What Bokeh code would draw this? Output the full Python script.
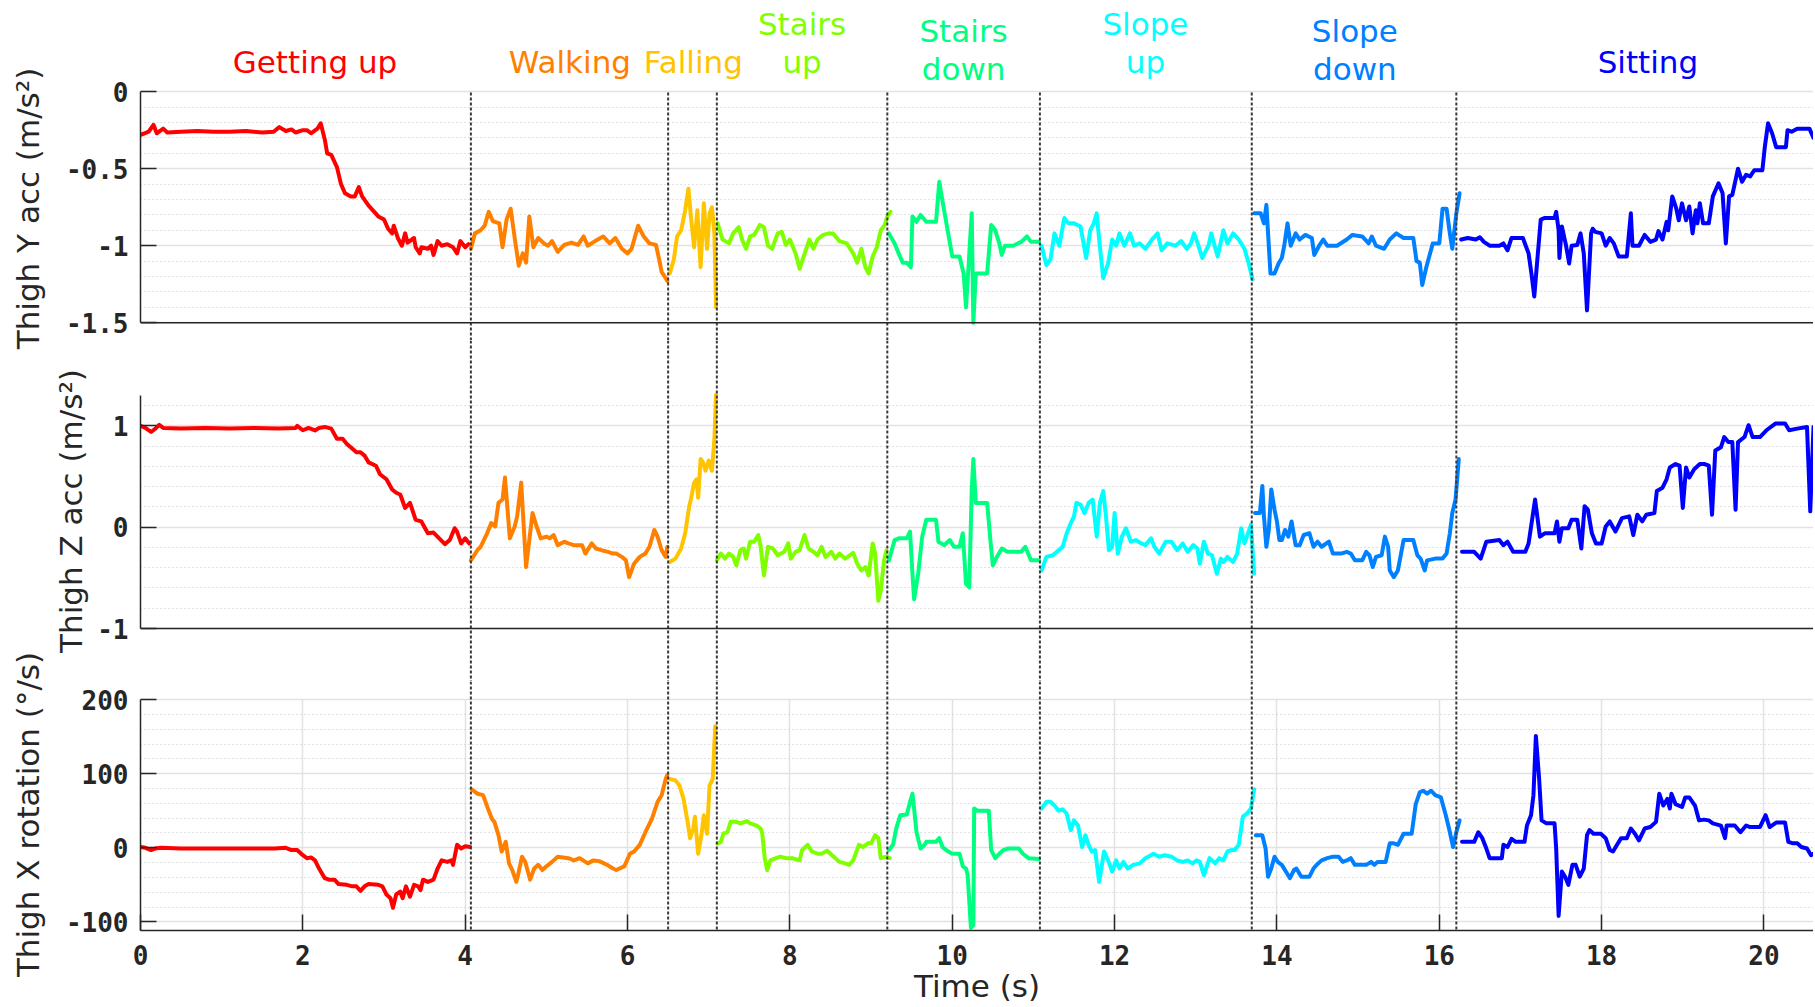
import numpy as np
from bokeh.plotting import figure
from bokeh.layouts import column, row
from bokeh.models import Range1d, Span, FixedTicker, Grid
from bokeh.embed import file_html
from bokeh.resources import INLINE
from bokeh.core.properties import value

# ---------------- data ----------------
ACTIVITIES = ["Getting up", "Walking", "Falling", "Stairs up", "Stairs down",
              "Slope up", "Slope down", "Sitting"]
COLORS = ["#FF0000", "#FF8000", "#FFC400", "#80FF00", "#00FF80",
          "#00FFFF", "#0080FF", "#0000FF"]
BOUNDARIES = [4.07, 6.50, 7.10, 9.20, 11.08, 13.69, 16.21]
LABEL_T = [2.15, 5.29, 6.81, 8.15, 10.14, 12.38, 14.96, 18.57]

# Thigh Y acceleration (m/s^2): one list of (time, value) per activity
YACC = [
    [(0, -0.28), (0.05, -0.27), (0.1, -0.26), (0.16, -0.215), (0.2, -0.27), (0.28, -0.24), (0.33, -0.265),
     (0.5, -0.26), (0.7, -0.255), (0.9, -0.26), (1.1, -0.26), (1.3, -0.255), (1.5, -0.265), (1.64, -0.26),
     (1.71, -0.23), (1.79, -0.255), (1.86, -0.245), (1.91, -0.265), (2.0, -0.25), (2.05, -0.25), (2.1, -0.27),
     (2.18, -0.24), (2.22, -0.205), (2.27, -0.31), (2.3, -0.40), (2.35, -0.41), (2.42, -0.49), (2.47, -0.60),
     (2.52, -0.66), (2.59, -0.68), (2.64, -0.68), (2.69, -0.62), (2.73, -0.68), (2.81, -0.74), (2.88, -0.78),
     (2.93, -0.81), (3.0, -0.83), (3.05, -0.89), (3.1, -0.92), (3.12, -0.87), (3.17, -0.95), (3.22, -1.0),
     (3.26, -0.92), (3.29, -0.98), (3.37, -0.95), (3.39, -1.01), (3.44, -1.05), (3.46, -1.01), (3.54, -1.02),
     (3.58, -1.0), (3.61, -1.06), (3.66, -0.97), (3.71, -1.0), (3.78, -0.99), (3.85, -1.01), (3.9, -1.05),
     (3.94, -0.97), (4.0, -1.01), (4.04, -0.99)],
    [(4.07, -1.02), (4.12, -0.92), (4.19, -0.90), (4.24, -0.87), (4.29, -0.78), (4.34, -0.84), (4.42, -0.855),
     (4.46, -1.01), (4.51, -0.83), (4.56, -0.76), (4.61, -0.95), (4.66, -1.13), (4.71, -1.05), (4.75, -1.11),
     (4.79, -0.81), (4.84, -1.01), (4.9, -0.95), (4.97, -0.985), (5.02, -1.0), (5.07, -0.97), (5.14, -1.04),
     (5.22, -0.995), (5.31, -0.98), (5.39, -0.995), (5.46, -0.94), (5.51, -1.0), (5.6, -0.97), (5.7, -0.94),
     (5.78, -0.985), (5.85, -0.95), (5.93, -1.02), (6.0, -1.05), (6.05, -1.02), (6.13, -0.87), (6.2, -0.94),
     (6.27, -0.985), (6.35, -0.995), (6.39, -1.09), (6.42, -1.17), (6.47, -1.21), (6.49, -1.23)],
    [(6.52, -1.18), (6.57, -1.09), (6.61, -0.94), (6.66, -0.90), (6.71, -0.77), (6.75, -0.63), (6.78, -0.81),
     (6.82, -1.01), (6.86, -0.77), (6.9, -1.14), (6.94, -0.725), (6.98, -1.02), (7.01, -0.79), (7.04, -0.75),
     (7.07, -0.92), (7.09, -1.40)],
    [(7.11, -0.855), (7.17, -0.96), (7.25, -0.985), (7.3, -0.92), (7.37, -0.88), (7.41, -0.96), (7.46, -1.02),
     (7.51, -0.94), (7.56, -0.93), (7.63, -0.865), (7.68, -0.88), (7.73, -1.0), (7.78, -1.02), (7.85, -0.92),
     (7.9, -0.91), (7.95, -0.995), (8.0, -0.96), (8.07, -1.05), (8.12, -1.15), (8.17, -1.07), (8.24, -0.96),
     (8.29, -1.02), (8.34, -0.96), (8.41, -0.93), (8.48, -0.92), (8.53, -0.92), (8.61, -0.97), (8.7, -0.985),
     (8.78, -1.05), (8.83, -1.11), (8.88, -1.02), (8.93, -1.14), (8.97, -1.18), (9.02, -1.07), (9.07, -1.01),
     (9.12, -0.90), (9.17, -0.865), (9.2, -0.81), (9.24, -0.78)],
    [(9.22, -0.92), (9.29, -0.985), (9.34, -1.05), (9.39, -1.11), (9.44, -1.11), (9.49, -1.14), (9.51, -0.81),
     (9.56, -0.845), (9.61, -0.80), (9.68, -0.845), (9.8, -0.845), (9.84, -0.585), (9.87, -0.68), (9.95, -0.92),
     (10.0, -1.07), (10.09, -1.07), (10.14, -1.18), (10.17, -1.40), (10.21, -1.05), (10.24, -0.79), (10.26, -1.5),
     (10.29, -1.18), (10.43, -1.18), (10.48, -0.865), (10.53, -0.90), (10.58, -0.985), (10.61, -1.06),
     (10.65, -1.0), (10.75, -1.0), (10.85, -0.975), (10.92, -0.94), (10.97, -0.975), (11.07, -0.975)],
    [(11.1, -1.0), (11.16, -1.125), (11.21, -1.09), (11.26, -0.92), (11.32, -1.0), (11.38, -0.82), (11.43, -0.855),
     (11.5, -0.855), (11.58, -0.875), (11.65, -1.08), (11.7, -0.90), (11.74, -0.86), (11.78, -0.79), (11.81, -0.96),
     (11.86, -1.21), (11.92, -1.115), (11.97, -0.96), (12.02, -1.0), (12.06, -0.92), (12.12, -1.0), (12.19, -0.92),
     (12.24, -1.0), (12.31, -0.985), (12.38, -1.02), (12.46, -0.96), (12.53, -0.92), (12.58, -1.03), (12.65, -0.985),
     (12.75, -1.0), (12.82, -0.97), (12.89, -1.02), (12.94, -0.985), (12.98, -0.92), (13.03, -0.995), (13.08, -1.08),
     (13.16, -0.995), (13.19, -0.92), (13.27, -1.07), (13.34, -0.90), (13.39, -0.985), (13.46, -0.92),
     (13.53, -0.96), (13.6, -1.02), (13.65, -1.11), (13.7, -1.22)],
    [(13.72, -0.79), (13.8, -0.79), (13.84, -0.855), (13.87, -0.735), (13.92, -1.18), (13.97, -1.18), (14.02, -1.115),
     (14.06, -1.08), (14.09, -1.0), (14.13, -0.855), (14.17, -1.0), (14.23, -0.92), (14.28, -0.96), (14.35, -0.93),
     (14.43, -0.95), (14.46, -1.06), (14.52, -1.0), (14.57, -0.96), (14.62, -1.0), (14.74, -1.0), (14.86, -0.96),
     (14.93, -0.93), (15.05, -0.94), (15.13, -0.985), (15.17, -0.94), (15.22, -1.0), (15.32, -1.02), (15.39, -0.96),
     (15.47, -0.92), (15.56, -0.95), (15.68, -0.95), (15.72, -1.10), (15.76, -1.11), (15.79, -1.255), (15.84, -1.14),
     (15.92, -0.985), (16.0, -0.985), (16.04, -0.76), (16.09, -0.76), (16.13, -0.92), (16.16, -1.02),
     (16.21, -0.79), (16.25, -0.66)],
    [(16.27, -0.96), (16.35, -0.95), (16.45, -0.96), (16.5, -0.945), (16.55, -0.975), (16.62, -1.0), (16.74, -1.0),
     (16.79, -0.985), (16.84, -1.03), (16.89, -0.95), (17.03, -0.95), (17.1, -1.05), (17.14, -1.2), (17.17, -1.33),
     (17.2, -1.14), (17.25, -0.83), (17.3, -0.82), (17.42, -0.82), (17.44, -0.78), (17.47, -0.90), (17.48, -1.08),
     (17.51, -0.875), (17.56, -0.995), (17.6, -1.115), (17.63, -1.0), (17.7, -0.995), (17.74, -0.92), (17.78, -1.05),
     (17.82, -1.42), (17.87, -0.92), (17.89, -0.89), (17.92, -0.91), (18.0, -0.92), (18.05, -1.0), (18.1, -0.95),
     (18.15, -0.985), (18.21, -1.07), (18.31, -1.07), (18.36, -0.79), (18.38, -1.0), (18.46, -1.0), (18.53, -0.93),
     (18.6, -0.975), (18.67, -0.96), (18.7, -0.905), (18.75, -0.96), (18.8, -0.845), (18.82, -0.90), (18.87, -0.68),
     (18.92, -0.76), (18.95, -0.835), (18.99, -0.725), (19.04, -0.835), (19.08, -0.745), (19.12, -0.92),
     (19.16, -0.77), (19.18, -0.855), (19.21, -0.725), (19.25, -0.855), (19.32, -0.855), (19.37, -0.68),
     (19.44, -0.595), (19.49, -0.66), (19.53, -0.985), (19.57, -0.68), (19.61, -0.67), (19.68, -0.50),
     (19.73, -0.585), (19.78, -0.54), (19.83, -0.55), (19.88, -0.51), (19.98, -0.51), (20.01, -0.36),
     (20.05, -0.205), (20.1, -0.27), (20.15, -0.36), (20.27, -0.36), (20.29, -0.25), (20.34, -0.26),
     (20.41, -0.24), (20.56, -0.24), (20.61, -0.30)],
]

# Thigh Z acceleration (m/s^2)
ZACC = [
    [(0, 1.0), (0.06, 0.98), (0.13, 0.94), (0.18, 0.97), (0.23, 1.01), (0.28, 0.98), (0.5, 0.975), (0.8, 0.98),
     (1.1, 0.975), (1.4, 0.98), (1.7, 0.975), (1.91, 0.98), (1.93, 1.0), (2.0, 0.957), (2.07, 0.98), (2.15, 0.955),
     (2.2, 0.98), (2.27, 0.99), (2.35, 0.973), (2.42, 0.873), (2.49, 0.873), (2.54, 0.823), (2.59, 0.79),
     (2.66, 0.74), (2.71, 0.74), (2.76, 0.707), (2.81, 0.64), (2.9, 0.607), (2.95, 0.523), (3.03, 0.473),
     (3.1, 0.373), (3.15, 0.34), (3.2, 0.323), (3.26, 0.19), (3.32, 0.24), (3.39, 0.073), (3.46, 0.057),
     (3.54, -0.06), (3.61, -0.053), (3.68, -0.11), (3.75, -0.167), (3.81, -0.127), (3.87, -0.01), (3.9, -0.043),
     (3.95, -0.16), (4.0, -0.11), (4.05, -0.16)],
    [(4.07, -0.327), (4.15, -0.227), (4.19, -0.193), (4.27, -0.06), (4.32, 0.04), (4.37, 0.007), (4.41, 0.24),
     (4.46, 0.273), (4.49, 0.49), (4.55, -0.11), (4.61, 0.007), (4.64, 0.107), (4.69, 0.44), (4.75, -0.393),
     (4.83, 0.14), (4.88, 0.007), (4.93, -0.11), (5.0, -0.093), (5.04, -0.11), (5.09, -0.077), (5.14, -0.177),
     (5.22, -0.143), (5.27, -0.16), (5.34, -0.177), (5.44, -0.177), (5.48, -0.26), (5.56, -0.16), (5.61, -0.21),
     (5.68, -0.227), (5.76, -0.243), (5.82, -0.26), (5.86, -0.26), (5.93, -0.293), (5.98, -0.327), (6.02, -0.493),
     (6.08, -0.36), (6.15, -0.293), (6.22, -0.26), (6.27, -0.193), (6.33, -0.027), (6.37, -0.093), (6.42, -0.227),
     (6.47, -0.293), (6.49, -0.193)],
    [(6.52, -0.343), (6.59, -0.31), (6.66, -0.21), (6.71, -0.06), (6.76, 0.207), (6.78, 0.273), (6.82, 0.44),
     (6.85, 0.473), (6.87, 0.29), (6.9, 0.673), (6.93, 0.64), (6.96, 0.557), (7.0, 0.657), (7.04, 0.557),
     (7.07, 0.873), (7.09, 1.307)],
    [(7.1, -0.327), (7.15, -0.26), (7.2, -0.31), (7.25, -0.26), (7.3, -0.29), (7.34, -0.377), (7.39, -0.227),
     (7.43, -0.21), (7.46, -0.31), (7.51, -0.143), (7.56, -0.143), (7.61, -0.077), (7.64, -0.193), (7.68, -0.477),
     (7.73, -0.193), (7.79, -0.21), (7.85, -0.277), (7.93, -0.243), (7.98, -0.16), (8.01, -0.31), (8.07, -0.243),
     (8.12, -0.227), (8.18, -0.077), (8.23, -0.21), (8.29, -0.243), (8.34, -0.277), (8.39, -0.193), (8.44, -0.293),
     (8.51, -0.243), (8.56, -0.31), (8.61, -0.26), (8.68, -0.31), (8.78, -0.253), (8.83, -0.36), (8.88, -0.427),
     (8.93, -0.393), (8.97, -0.477), (9.02, -0.16), (9.05, -0.26), (9.09, -0.727), (9.12, -0.627), (9.16, -0.327),
     (9.19, -0.227)],
    [(9.22, -0.327), (9.29, -0.127), (9.34, -0.11), (9.44, -0.11), (9.48, -0.043), (9.51, -0.46), (9.53, -0.71),
     (9.58, -0.46), (9.63, -0.093), (9.68, 0.073), (9.8, 0.073), (9.83, -0.143), (9.9, -0.177), (9.97, -0.127),
     (10.02, -0.193), (10.09, -0.193), (10.13, -0.06), (10.17, -0.56), (10.21, -0.593), (10.24, 0.373),
     (10.26, 0.673), (10.29, 0.24), (10.43, 0.24), (10.47, -0.127), (10.5, -0.377), (10.55, -0.293), (10.61, -0.21),
     (10.68, -0.243), (10.85, -0.243), (10.9, -0.193), (10.97, -0.327), (11.07, -0.327)],
    [(11.1, -0.427), (11.16, -0.293), (11.24, -0.277), (11.31, -0.227), (11.36, -0.193), (11.41, -0.06),
     (11.46, 0.04), (11.5, 0.107), (11.53, 0.24), (11.58, 0.223), (11.63, 0.14), (11.68, 0.24), (11.73, 0.273),
     (11.78, -0.093), (11.82, 0.24), (11.86, 0.357), (11.89, 0.14), (11.93, -0.227), (11.97, -0.193), (12.0, 0.14),
     (12.04, -0.26), (12.09, -0.093), (12.14, -0.01), (12.2, -0.143), (12.26, -0.127), (12.33, -0.16),
     (12.38, -0.177), (12.45, -0.11), (12.49, -0.193), (12.55, -0.26), (12.63, -0.143), (12.7, -0.143),
     (12.77, -0.227), (12.84, -0.16), (12.9, -0.243), (12.97, -0.177), (13.02, -0.21), (13.05, -0.36),
     (13.1, -0.143), (13.15, -0.26), (13.2, -0.277), (13.26, -0.46), (13.31, -0.31), (13.34, -0.343),
     (13.39, -0.293), (13.46, -0.343), (13.51, -0.26), (13.56, -0.01), (13.6, -0.16), (13.68, 0.023),
     (13.72, -0.46)],
    [(13.73, 0.14), (13.79, 0.14), (13.82, 0.407), (13.84, 0.107), (13.87, -0.193), (13.9, -0.027), (13.93, 0.373),
     (13.97, 0.173), (14.0, 0.057), (14.03, -0.127), (14.06, -0.127), (14.1, -0.027), (14.14, -0.093),
     (14.18, 0.057), (14.23, -0.177), (14.28, -0.177), (14.33, -0.077), (14.4, -0.06), (14.45, -0.193),
     (14.5, -0.143), (14.55, -0.193), (14.64, -0.143), (14.69, -0.26), (14.79, -0.26), (14.86, -0.243),
     (14.91, -0.26), (14.96, -0.327), (15.05, -0.327), (15.1, -0.243), (15.14, -0.277), (15.18, -0.393),
     (15.22, -0.293), (15.29, -0.277), (15.33, -0.093), (15.37, -0.193), (15.39, -0.427), (15.44, -0.493),
     (15.49, -0.427), (15.56, -0.127), (15.68, -0.127), (15.73, -0.277), (15.77, -0.31), (15.82, -0.427),
     (15.85, -0.327), (15.95, -0.31), (16.04, -0.31), (16.09, -0.26), (16.13, -0.06), (16.16, 0.14),
     (16.2, 0.273), (16.24, 0.673)],
    [(16.28, -0.243), (16.43, -0.243), (16.51, -0.31), (16.58, -0.143), (16.74, -0.127), (16.79, -0.177),
     (16.84, -0.143), (16.91, -0.243), (17.06, -0.243), (17.1, -0.16), (17.18, 0.273), (17.24, -0.093),
     (17.3, -0.06), (17.42, -0.06), (17.45, 0.057), (17.48, -0.143), (17.51, -0.01), (17.59, -0.01),
     (17.63, 0.073), (17.7, 0.073), (17.75, -0.21), (17.79, 0.207), (17.83, 0.173), (17.88, -0.06),
     (17.93, -0.16), (18.0, -0.16), (18.05, 0.007), (18.1, 0.057), (18.17, -0.043), (18.25, 0.09),
     (18.34, 0.107), (18.39, -0.077), (18.44, 0.123), (18.5, 0.057), (18.55, 0.123), (18.65, 0.14),
     (18.68, 0.357), (18.75, 0.39), (18.8, 0.473), (18.84, 0.59), (18.91, 0.623), (18.96, 0.607), (19.0, 0.19),
     (19.04, 0.59), (19.08, 0.49), (19.14, 0.573), (19.21, 0.623), (19.27, 0.623), (19.32, 0.607), (19.36, 0.123),
     (19.4, 0.757), (19.47, 0.79), (19.51, 0.89), (19.56, 0.84), (19.61, 0.84), (19.65, 0.173), (19.68, 0.84),
     (19.76, 0.89), (19.81, 1.007), (19.86, 0.89), (19.95, 0.89), (20.03, 0.957), (20.14, 1.023), (20.26, 1.023),
     (20.31, 0.957), (20.41, 0.973), (20.53, 0.99), (20.57, 0.157), (20.61, 0.99)],
]

# Thigh X rotation (deg/s)
XROT = [
    [(0, 1), (0.06, 0), (0.13, -3), (0.18, -1), (0.25, 0), (0.5, -1), (0.8, -1), (1.1, -1), (1.4, -1), (1.65, -1),
     (1.79, 0), (1.86, -3), (1.93, -3), (2.0, -10), (2.05, -14), (2.1, -13), (2.15, -17), (2.2, -28), (2.27, -41),
     (2.32, -43), (2.39, -43), (2.44, -49), (2.54, -50), (2.61, -52), (2.66, -52), (2.71, -58), (2.76, -52),
     (2.81, -49), (2.93, -50), (2.98, -52), (3.03, -63), (3.08, -68), (3.11, -81), (3.15, -63), (3.2, -59),
     (3.23, -68), (3.27, -52), (3.32, -66), (3.37, -50), (3.42, -52), (3.45, -57), (3.48, -43), (3.54, -46),
     (3.61, -43), (3.66, -28), (3.71, -17), (3.78, -19), (3.83, -17), (3.85, -23), (3.9, 4), (3.95, -1),
     (4.0, 2), (4.06, 1)],
    [(4.08, 79), (4.15, 73), (4.22, 71), (4.28, 53), (4.33, 39), (4.36, 35), (4.41, 17), (4.45, -5), (4.5, 8),
     (4.54, -21), (4.58, -30), (4.63, -46), (4.65, -37), (4.7, -12), (4.74, -19), (4.8, -43), (4.85, -28),
     (4.9, -23), (4.95, -30), (5.0, -25), (5.07, -19), (5.14, -12), (5.27, -14), (5.34, -17), (5.41, -14),
     (5.51, -21), (5.58, -17), (5.65, -18), (5.75, -23), (5.82, -28), (5.86, -30), (5.96, -25), (6.03, -8),
     (6.08, -5), (6.15, 4), (6.22, 21), (6.3, 39), (6.37, 62), (6.42, 71), (6.47, 93), (6.49, 98)],
    [(6.52, 93), (6.59, 91), (6.64, 84), (6.69, 66), (6.74, 35), (6.77, 13), (6.81, 26), (6.83, 42), (6.87, -8),
     (6.91, 17), (6.94, 44), (6.98, 19), (7.01, 84), (7.05, 93), (7.08, 164)],
    [(7.11, 6), (7.15, 8), (7.18, 19), (7.23, 21), (7.27, 35), (7.34, 35), (7.39, 33), (7.47, 36), (7.51, 33),
     (7.59, 30), (7.64, 26), (7.66, 19), (7.69, -14), (7.72, -30), (7.76, -17), (7.83, -14), (7.88, -12),
     (7.95, -14), (8.03, -14), (8.12, -17), (8.15, -3), (8.22, 4), (8.27, -5), (8.34, -8), (8.39, -8), (8.46, -4),
     (8.54, -12), (8.61, -19), (8.68, -21), (8.73, -23), (8.78, -17), (8.85, 4), (8.9, 1), (8.96, 6), (9.0, 6),
     (9.05, 17), (9.09, 13), (9.12, -14), (9.19, -12), (9.23, -14)],
    [(9.22, -3), (9.27, 4), (9.31, 26), (9.36, 44), (9.44, 45), (9.48, 62), (9.51, 73), (9.53, 53), (9.56, 21),
     (9.61, -1), (9.66, 4), (9.68, 8), (9.8, 8), (9.84, 13), (9.88, 1), (9.95, -5), (10.0, -8), (10.09, -8),
     (10.13, -25), (10.17, -28), (10.19, -37), (10.23, -108), (10.26, -104), (10.27, 53), (10.31, 50),
     (10.45, 50), (10.48, -3), (10.53, -14), (10.58, -8), (10.63, -3), (10.68, -1), (10.82, -1), (10.87, -8),
     (10.94, -14), (11.07, -15)],
    [(11.1, 53), (11.16, 62), (11.21, 62), (11.26, 57), (11.31, 50), (11.36, 52), (11.41, 46), (11.46, 24),
     (11.5, 37), (11.55, 30), (11.6, 1), (11.64, 17), (11.68, 4), (11.72, -5), (11.76, -3), (11.81, -46),
     (11.87, -5), (11.92, -17), (11.97, -32), (12.02, -17), (12.06, -28), (12.11, -19), (12.16, -28),
     (12.23, -23), (12.31, -21), (12.38, -14), (12.48, -8), (12.55, -12), (12.62, -10), (12.7, -12),
     (12.77, -17), (12.84, -19), (12.9, -17), (12.96, -21), (13.01, -17), (13.05, -19), (13.1, -37),
     (13.17, -14), (13.24, -21), (13.29, -14), (13.34, -17), (13.39, -5), (13.44, -3), (13.48, -3), (13.53, 4),
     (13.58, 42), (13.63, 46), (13.68, 53), (13.72, 79)],
    [(13.74, 17), (13.82, 17), (13.86, -1), (13.89, -39), (13.93, -28), (13.97, -12), (14.01, -19), (14.06, -23),
     (14.11, -32), (14.16, -41), (14.21, -30), (14.24, -28), (14.3, -39), (14.4, -39), (14.45, -28), (14.49, -23),
     (14.55, -17), (14.62, -14), (14.69, -12), (14.76, -12), (14.81, -19), (14.86, -17), (14.91, -14),
     (14.96, -23), (15.1, -23), (15.16, -19), (15.2, -23), (15.24, -19), (15.34, -19), (15.39, 6), (15.44, 6),
     (15.49, 4), (15.56, 19), (15.66, 19), (15.71, 59), (15.76, 75), (15.8, 77), (15.85, 73), (15.9, 77),
     (15.95, 71), (16.02, 68), (16.08, 44), (16.12, 26), (16.17, 1), (16.21, 21), (16.25, 37)],
    [(16.28, 8), (16.43, 8), (16.48, 21), (16.53, 13), (16.58, -1), (16.62, -14), (16.77, -14), (16.79, 4),
     (16.84, 1), (16.89, 12), (16.94, 8), (17.05, 8), (17.08, 30), (17.13, 44), (17.16, 71), (17.19, 151),
     (17.23, 93), (17.26, 37), (17.32, 33), (17.42, 33), (17.44, -1), (17.47, -92), (17.51, -32), (17.55, -39),
     (17.59, -50), (17.64, -23), (17.68, -23), (17.73, -39), (17.78, -28), (17.82, 17), (17.85, 24), (17.9, 19),
     (17.99, 19), (18.05, 13), (18.1, -3), (18.14, -5), (18.19, 4), (18.24, 13), (18.31, 13), (18.36, 26),
     (18.41, 19), (18.46, 10), (18.53, 26), (18.6, 28), (18.67, 35), (18.71, 73), (18.76, 57), (18.81, 66),
     (18.84, 53), (18.86, 73), (18.91, 59), (18.99, 55), (19.03, 68), (19.08, 68), (19.15, 57), (19.2, 37),
     (19.26, 38), (19.32, 37), (19.37, 33), (19.47, 30), (19.52, 13), (19.54, 30), (19.64, 30), (19.71, 21),
     (19.78, 30), (19.83, 28), (19.95, 28), (20.02, 44), (20.07, 28), (20.15, 34), (20.26, 34), (20.3, 8),
     (20.36, 6), (20.41, 6), (20.46, 1), (20.53, -1), (20.58, -10), (20.61, -8)],
]

YACC_TICKS = [-1.5, -1, -0.5, 0]
YACC_TICK_LABELS = ["-1.5", "-1", "-0.5", "0"]
ZACC_TICKS = [-1, 0, 1]
ZACC_TICK_LABELS = ["-1", "0", "1"]
XROT_TICKS = [-100, 0, 100, 200]
XROT_TICK_LABELS = ["-100", "0", "100", "200"]
TIME_TICKS = [0, 2, 4, 6, 8, 10, 12, 14, 16, 18, 20]
TIME_TICK_LABELS = ["0", "2", "4", "6", "8", "10", "12", "14", "16", "18", "20"]
YLABELS = ["Thigh Y acc (m/s²)", "Thigh Z acc (m/s²)", "Thigh X rotation (°/s)"]

# ---------------- style / layout ----------------
SIDE_W = 50
W = 1763
LEFT = 88
INK = "#262626"
TICK_FONT = "DejaVu Sans Mono"
LABEL_FONT = "DejaVu Sans"
XR = Range1d(0, 20.61)
SEP_STYLE = dict(line_color="#3a3a3a", line_width=2, line_dash="3 2")
TOP_H, MID_H, BOT_H = 340, 341, 326


def minor_ticks(ticks, n, lo, hi):
    step = (ticks[1] - ticks[0]) / n
    k0 = int(np.ceil((lo - ticks[0]) / step - 1e-9))
    k1 = int(np.floor((hi - ticks[0]) / step + 1e-9))
    return [round(ticks[0] + k * step, 6) for k in range(k0, k1 + 1) if k % n != 0]


def base(width, height, x_range, y_range, btop, bbottom, bleft, x_axis, y_axis):
    p = figure(width=width, height=height, x_range=x_range, y_range=y_range,
               output_backend="svg", toolbar_location=None, title=None,
               min_border_left=bleft, min_border_right=0,
               min_border_top=btop, min_border_bottom=bbottom,
               x_axis_location="below" if x_axis else None,
               y_axis_location="left" if y_axis else None)
    p.outline_line_color = None
    p.background_fill_color = "white"
    p.border_fill_color = "white"
    return p


def panel(data, height, y_range, ticks, tick_labels, n_minor, axis_bounds, label=None,
          label_standoff=0, btop=0, bbottom=0, x_axis=False, axis_line_y=None, sep_top=None):
    p = base(W, height, XR, y_range, btop, bbottom, LEFT, x_axis, True)
    lo, hi = axis_bounds
    ay = p.yaxis[0]
    ay.ticker = FixedTicker(ticks=ticks, minor_ticks=minor_ticks(ticks, n_minor, max(lo, ticks[0]), hi))
    ay.bounds = axis_bounds
    ay.major_label_overrides = {t: s for t, s in zip(ticks, tick_labels)}
    ay.major_tick_in = 16
    ay.major_tick_out = 0
    ay.minor_tick_in = 0
    ay.minor_tick_out = 0
    ay.axis_line_color = INK
    ay.axis_line_width = 1.5
    ay.major_tick_line_color = INK
    ay.major_tick_line_width = 1.5
    ay.major_label_standoff = 12
    ay.major_label_text_font = TICK_FONT
    ay.major_label_text_font_style = "bold"
    ay.major_label_text_font_size = "26px"
    ay.major_label_text_color = INK
    if label:
        ay.axis_label = label
        ay.axis_label_text_font = LABEL_FONT
        ay.axis_label_text_font_style = "normal"
        ay.axis_label_text_font_size = "31px"
        ay.axis_label_text_color = INK
        ay.axis_label_standoff = label_standoff

    g = p.ygrid[0]
    g.grid_line_color = "#e2e2e2"
    g.grid_line_width = 1.5
    g.minor_grid_line_color = "#c4c4c4"
    g.minor_grid_line_width = 1
    g.minor_grid_line_dash = "1 3"

    if x_axis:
        ax = p.xaxis[0]
        ax.ticker = FixedTicker(ticks=TIME_TICKS)
        ax.major_label_overrides = {t: s for t, s in zip(TIME_TICKS, TIME_TICK_LABELS)}
        ax.major_tick_in = 16
        ax.major_tick_out = 0
        ax.minor_tick_in = 0
        ax.minor_tick_out = 0
        ax.axis_line_color = INK
        ax.axis_line_width = 1.5
        ax.major_tick_line_color = INK
        ax.major_tick_line_width = 1.5
        ax.major_label_standoff = 14
        ax.major_label_text_font = TICK_FONT
        ax.major_label_text_font_style = "bold"
        ax.major_label_text_font_size = "26px"
        ax.major_label_text_color = INK
        ax.axis_label = "Time (s)"
        ax.axis_label_text_font = LABEL_FONT
        ax.axis_label_text_font_style = "normal"
        ax.axis_label_text_font_size = "31px"
        ax.axis_label_text_color = INK
        ax.axis_label_standoff = 0
        xg = p.xgrid[0]
        xg.grid_line_color = "#e2e2e2"
        xg.grid_line_width = 1.5
        if "cross_bounds" in Grid.properties():
            xg.cross_bounds = (y_range.start, hi)
    else:
        for g2 in p.xgrid:
            g2.visible = False

    for i, seg in enumerate(data):
        t = [a for a, b in seg]
        v = [b for a, b in seg]
        p.line(t, v, line_color=COLORS[i], line_width=4, line_join="round", line_cap="round")

    if sep_top is None:
        for b in BOUNDARIES:
            p.add_layout(Span(location=b, dimension="height", **SEP_STYLE))
    else:
        p.segment(x0=BOUNDARIES, y0=y_range.start, x1=BOUNDARIES, y1=sep_top, **SEP_STYLE)
    if axis_line_y is not None:
        p.add_layout(Span(location=axis_line_y, dimension="width", line_color=INK, line_width=1.5))
    return p


# top panel (its frame also holds the activity names above the data)
top = panel(YACC, TOP_H, Range1d(-1.6156, 0.5922), YACC_TICKS, YACC_TICK_LABELS, 5, (-1.5, 0),
            axis_line_y=-1.5, sep_top=0)
mid = panel(ZACC, MID_H, Range1d(-1.523, 1.843), ZACC_TICKS, ZACC_TICK_LABELS, 5, (-1, 1.3),
            label=YLABELS[1], label_standoff=5, axis_line_y=-1)
bot = panel(XROT, BOT_H, Range1d(-111.6, 224.4), XROT_TICKS, XROT_TICK_LABELS, 5, (-111.6, 200),
            bbottom=77, x_axis=True)

# activity names: one or two text lines each, placed above the top panel
hx, hy, ht, hc = [], [], [], []
for i, name in enumerate(ACTIVITIES):
    words = name.split(" ")
    if words[0] in ("Stairs", "Slope"):
        ys = [0.4364, 0.1916] if words[1] == "up" else [0.3929, 0.1487]
        lines = words
    else:
        ys = [0.1916]
        lines = [name]
    for ln, yy in zip(lines, ys):
        hx.append(LABEL_T[i])
        hy.append(yy)
        ht.append(ln)
        hc.append(COLORS[i])
top.text(x=hx, y=hy, text=ht, text_color=hc, text_font=value(LABEL_FONT),
         text_font_size="31px", text_align="center", text_baseline="alphabetic")

# side strip carrying the long y-axis titles of the top and bottom panels
PAGE_H = TOP_H + MID_H + BOT_H
side = base(SIDE_W, PAGE_H, Range1d(0, SIDE_W), Range1d(0, PAGE_H), 0, 0, 0, False, False)
for g in side.xgrid + side.ygrid:
    g.visible = False
side.text(x=[27, 27], y=[PAGE_H - 208, PAGE_H - 814], text=[YLABELS[0], YLABELS[2]],
          angle=np.pi / 2, text_color=INK, text_font=value(LABEL_FONT), text_font_size="31px",
          text_align="center", text_baseline="middle")

layout = row(side, column(top, mid, bot, spacing=0), spacing=0)
open("out.html", "w").write(file_html(layout, INLINE))
